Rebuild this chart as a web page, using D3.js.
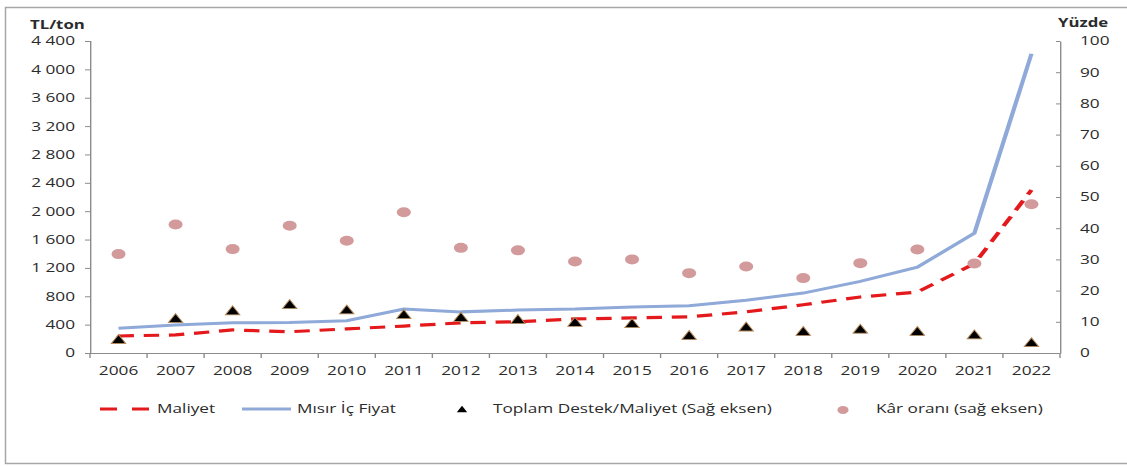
<!DOCTYPE html>
<meta charset="utf-8">
<script src="https://d3js.org/d3.v7.min.js"></script>
<style>
body { margin: 0; background-color: white; }
text { font-family: "Open Sans", sans-serif; fill: #2b2b2b; }
</style>
<div id="chart"></div>
<script>
// values
var years = ["2006","2007","2008","2009","2010","2011","2012","2013","2014","2015","2016","2017","2018","2019","2020","2021","2022"];
var maliyet = [240, 255, 325, 300, 340, 380, 425, 440, 480, 495, 510, 580, 680, 790, 860, 1260, 2300];
var fiyat = [350, 395, 425, 430, 455, 620, 580, 605, 620, 650, 665, 745, 845, 1010, 1210, 1690, 4220];
var destek = [4.0, 10.7, 13.2, 15.2, 13.5, 12.0, 11.1, 10.4, 9.5, 9.1, 5.3, 8.0, 6.6, 7.3, 6.6, 5.5, 3.0];
var kar = [31.7, 41.2, 33.3, 40.8, 36.0, 45.1, 33.7, 32.9, 29.3, 30.0, 25.6, 27.7, 24.0, 28.8, 33.2, 28.7, 47.7];
var leftTicks = [0, 400, 800, 1200, 1600, 2000, 2400, 2800, 3200, 3600, 4000, 4400];
var rightTicks = [0, 10, 20, 30, 40, 50, 60, 70, 80, 90, 100];

// the original picture is stretched sideways, so everything is drawn narrow and scaled
var SX = 1.4;
function X(v) { return v / SX; }

var width = 1127, height = 467;

var svg = d3.select("#chart").append("svg")
    .attr("width", width)
    .attr("height", height);

// frame
svg.append("path")
  .attr("d", "M1130,7.5 H5.5 V463.5 H1130")
  .attr("fill", "none")
  .attr("stroke", "#a6a6a6")
  .attr("stroke-width", 1.5);

var g = svg.append("g").attr("transform", "scale(" + SX + ",1)");

var x = d3.scaleBand().domain(years).range([X(90), X(1060)]);
var yL = d3.scaleLinear().domain([0, 4400]).range([353, 41]);
var yR = d3.scaleLinear().domain([0, 100]).range([353, 41]);

function cx(d, i) { return x(years[i]) + x.bandwidth() / 2; }

// left axis
var leftAxis = g.append("g")
  .attr("transform", "translate(" + X(90) + ",0)")
  .call(d3.axisLeft(yL).tickValues(leftTicks).tickSizeOuter(0).tickSize(X(5)).tickPadding(X(10))
    .tickFormat(function(d) { return d3.format(",")(d).replace(",", " "); }));

// right axis
var rightAxis = g.append("g")
  .attr("transform", "translate(" + X(1060) + ",0)")
  .call(d3.axisRight(yR).tickValues(rightTicks).tickSizeOuter(0).tickSizeInner(-X(4)).tickPadding(X(20)));

// bottom axis: labels centred, ticks between categories
var bottomAxis = g.append("g")
  .attr("transform", "translate(0,353)")
  .call(d3.axisBottom(x).tickSize(0).tickPadding(13.5));
bottomAxis.selectAll(".tick").each(function(d) {
  d3.select(this).append("line")
    .attr("x1", -x.bandwidth() / 2).attr("x2", -x.bandwidth() / 2)
    .attr("y1", 0).attr("y2", 5);
});
bottomAxis.append("line")
  .attr("x1", x.range()[1]).attr("x2", x.range()[1])
  .attr("y1", 0).attr("y2", 5);

[leftAxis, rightAxis, bottomAxis].forEach(function(a) {
  a.selectAll("path, line").attr("stroke", "#8c8c8c").attr("stroke-width", 1);
  a.selectAll("text").attr("font-size", 12.3).attr("font-family", "Open Sans").attr("fill", "#2b2b2b");
});

// axis titles
g.append("text").attr("x", X(30)).attr("y", 29)
  .attr("font-size", 12).attr("font-weight", "bold").text("TL/ton");
g.append("text").attr("x", X(1058)).attr("y", 27)
  .attr("font-size", 12).attr("font-weight", "bold").text("Yüzde");

// lines
var lineL = d3.line().x(cx).y(function(d) { return yL(d); });

g.append("path").datum(maliyet)
  .attr("d", lineL)
  .attr("fill", "none")
  .attr("stroke", "#e4191c")
  .attr("stroke-width", 3.2)
  .attr("stroke-dasharray", "11,7");

g.append("path").datum(fiyat)
  .attr("d", lineL)
  .attr("fill", "none")
  .attr("stroke", "#8fa9d8")
  .attr("stroke-width", 3);

// markers
var tri = d3.symbol().type(d3.symbolTriangle).size(46);

g.append("g").selectAll("path")
  .data(destek)
  .enter().append("path")
    .attr("d", tri)
    .attr("transform", function(d, i) { return "translate(" + cx(d, i) + "," + yR(d) + ")"; })
    .attr("fill", "#000")
    .attr("stroke", "#b58a5a")
    .attr("stroke-width", 0.8);

g.append("g").selectAll("circle")
  .data(kar)
  .enter().append("circle")
    .attr("cx", cx)
    .attr("cy", function(d) { return yR(d); })
    .attr("r", 5)
    .attr("fill", "#d39a9b");

// legend
var ly = 409;
var legend = g.append("g");
legend.append("line")
  .attr("x1", X(100)).attr("x2", X(149)).attr("y1", ly).attr("y2", ly)
  .attr("stroke", "#e4191c").attr("stroke-width", 3.2).attr("stroke-dasharray", X(17) + "," + X(15));
legend.append("text").attr("x", X(157)).attr("y", ly + 4.5).attr("font-size", 12.3).text("Maliyet");

legend.append("line")
  .attr("x1", X(242)).attr("x2", X(291)).attr("y1", ly).attr("y2", ly)
  .attr("stroke", "#8fa9d8").attr("stroke-width", 3);
legend.append("text").attr("x", X(297)).attr("y", ly + 4.5).attr("font-size", 12.3).text("Mısır İç Fiyat");

legend.append("path")
  .attr("d", d3.symbol().type(d3.symbolTriangle).size(24))
  .attr("transform", "translate(" + X(462) + "," + (ly + 1) + ")")
  .attr("fill", "#000");
legend.append("text").attr("x", X(493)).attr("y", ly + 4.5).attr("font-size", 12.3).text("Toplam Destek/Maliyet (Sağ eksen)");

legend.append("circle")
  .attr("cx", X(843)).attr("cy", ly + 1).attr("r", 4)
  .attr("fill", "#d39a9b");
legend.append("text").attr("x", X(876)).attr("y", ly + 4.5).attr("font-size", 12.3).text("Kâr oranı (sağ eksen)");
</script>
